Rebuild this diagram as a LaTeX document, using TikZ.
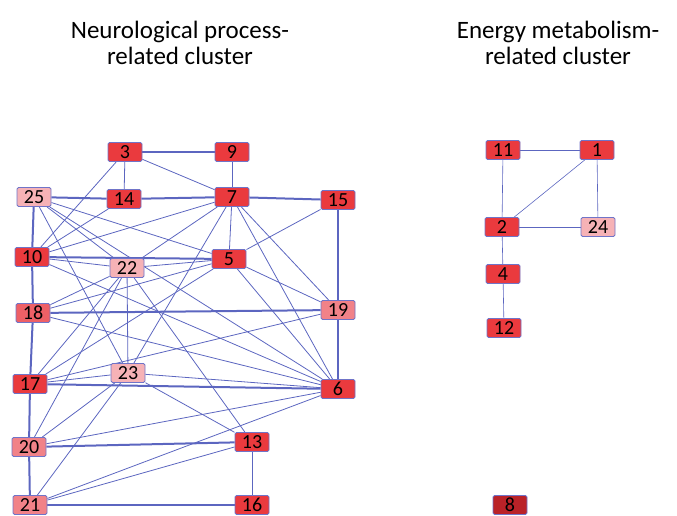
\documentclass[tikz,border=0pt]{standalone}
\usepackage{fontspec}
\setmainfont{Carlito}
\usetikzlibrary{backgrounds}
\definecolor{nodered}{RGB}{234,58,62}
\definecolor{nodepink}{RGB}{246,178,182}
\definecolor{nodesalmon}{RGB}{238,96,102}
\definecolor{noderose}{RGB}{241,130,136}
\definecolor{nodedark}{RGB}{186,34,40}
\definecolor{boxline}{RGB}{112,116,200}
\definecolor{edgeblue}{RGB}{92,102,192}
\begin{document}
\begin{tikzpicture}[x=1pt, y=-1pt,
  gene/.style={draw=boxline, line width=0.9pt, rounded corners=1.5pt, fill=nodered,
    minimum width=34pt, minimum height=19pt, inner sep=0pt, font=\fontsize{20}{20}\selectfont},
  link/.style={draw=edgeblue, line width=0.8pt},
  strong/.style={draw=edgeblue, line width=2pt},
  title/.style={align=center, font=\fontsize{25}{26}\selectfont}]
\useasboundingbox (0,0) rectangle (677,516);
\node[title] (left title) at (180,43) {Neurological process-\\related cluster};
\node[title] (right title) at (558,43) {Energy metabolism-\\related cluster};

\node[gene] (n3) at (125,152) {3};
\node[gene] (n9) at (232,152) {9};
\node[gene, fill=nodepink] (n25) at (34,197) {25};
\node[gene] (n14) at (124,199) {14};
\node[gene] (n7) at (232,197) {7};
\node[gene] (n15) at (338,200) {15};
\node[gene] (n10) at (32,257) {10};
\node[gene, fill=nodepink] (n22) at (127,268) {22};
\node[gene] (n5) at (229,259) {5};
\node[gene, fill=nodesalmon] (n18) at (33,313) {18};
\node[gene, fill=noderose] (n19) at (338,310) {19};
\node[gene] (n17) at (30,384) {17};
\node[gene, fill=nodepink] (n23) at (128,373) {23};
\node[gene] (n6) at (338,389) {6};
\node[gene, fill=noderose] (n20) at (29,447) {20};
\node[gene] (n13) at (252,442) {13};
\node[gene, fill=noderose] (n21) at (30,505) {21};
\node[gene] (n16) at (252,505) {16};

\node[gene] (n11) at (503,150) {11};
\node[gene] (n1) at (597,150) {1};
\node[gene] (n2) at (502,227) {2};
\node[gene, fill=nodepink] (n24) at (598,227) {24};
\node[gene] (n4) at (503,274) {4};
\node[gene] (n12) at (504,328) {12};
\node[gene, fill=nodedark] (n8) at (510,505) {8};

\begin{scope}[on background layer]
\foreach \a/\b in {n3/n9, n25/n14, n14/n7, n7/n15, n10/n5, n18/n19, n17/n6, n20/n13, n21/n16,
  n25/n10, n10/n18, n18/n17, n17/n20, n20/n21, n15/n19, n19/n6}
  \draw[strong] (\a) -- (\b);
\foreach \a/\b in {n3/n14, n3/n7, n3/n10, n9/n7, n14/n10, n7/n10, n7/n22, n7/n5, n7/n23, n7/n6, n7/n19,
  n15/n5, n25/n22, n25/n5, n25/n23, n25/n6, n10/n22, n10/n6, n22/n5, n22/n18, n22/n17, n22/n20, n22/n23,
  n22/n13, n18/n5, n18/n6, n17/n5, n17/n19, n17/n23, n20/n23, n20/n6, n21/n23, n21/n6, n21/n13,
  n23/n6, n23/n13, n13/n16, n5/n6, n5/n19}
  \draw[link] (\a) -- (\b);
\foreach \a/\b in {n11/n1, n11/n2, n1/n2, n1/n24, n2/n24, n2/n4, n4/n12}
  \draw[link, line width=0.6pt] (\a) -- (\b);
\end{scope}
\end{tikzpicture}
\end{document}
